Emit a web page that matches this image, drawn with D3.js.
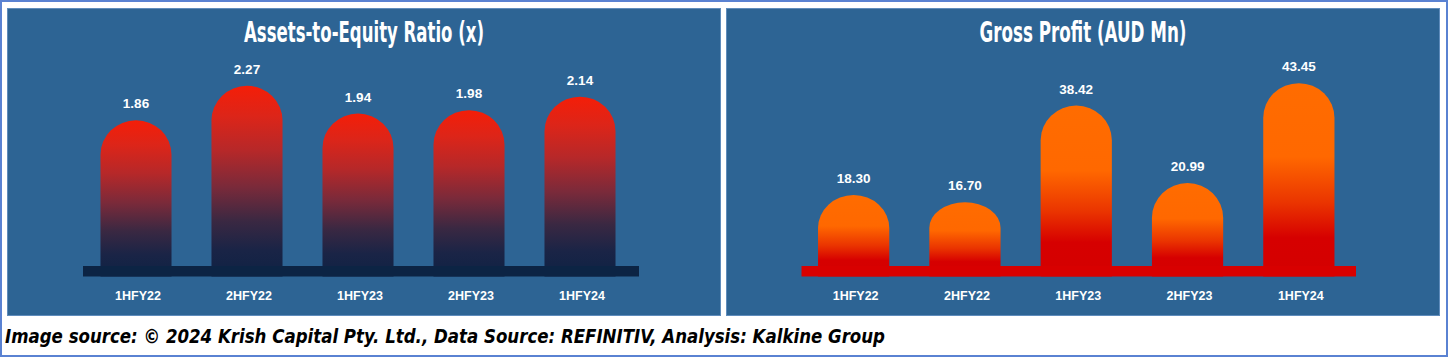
<!DOCTYPE html>
<html><head><meta charset="utf-8">
<script src="https://cdn.jsdelivr.net/npm/d3@7"></script>
<style>
html,body{margin:0;padding:0;background:#fff;}
svg{display:block;}
</style></head>
<body>
<script>
const categories = ["1HFY22","2HFY22","1HFY23","2HFY23","1HFY24"];
const assetsEquity = [1.86, 2.27, 1.94, 1.98, 2.14];
const grossProfit = [18.30, 16.70, 38.42, 20.99, 43.45];
const assetsLabels = ["1.86","2.27","1.94","1.98","2.14"];
const profitLabels = ["18.30","16.70","38.42","20.99","43.45"];
const titles = ["Assets-to-Equity Ratio (x)", "Gross Profit (AUD Mn)"];
const footer = "Image source: \u00a9 2024 Krish Capital Pty. Ltd., Data Source: REFINITIV, Analysis: Kalkine Group";

const W = 1448, H = 357;
const svg = d3.select("body").append("svg").attr("width", W).attr("height", H);
const defs = svg.append("defs");

svg.append("rect").attr("x",1).attr("y",1).attr("width",W-2).attr("height",H-2)
  .attr("fill","#fff").attr("stroke","#5a82d2").attr("stroke-width",2);

function grad(id, stops){
  const g = defs.append("linearGradient").attr("id",id)
    .attr("x1",0).attr("y1",0).attr("x2",0).attr("y2",1);
  stops.forEach(s=>g.append("stop").attr("offset",s[0]).attr("stop-color",s[1]));
}
grad("gLeft", [[0,"#f41e08"],[0.16,"#dc2519"],[0.34,"#b62829"],[0.53,"#7a2a3a"],[0.71,"#3a2842"],[0.86,"#1a2446"],[1,"#0e2244"]]);
grad("gRight", [[0,"#ff6c00"],[0.38,"#ff6800"],[0.62,"#ea3400"],[0.8,"#d60000"],[1,"#d40000"]]);

const panels = [
  {x0:7, x1:721, values:assetsEquity, labels:assetsLabels, title:titles[0], titleW:240,
   band:[80.5,635.5], strip:[83,639], yDom:[0,2.5], yTop:66.5, fill:"url(#gLeft)", stripFill:"#0c2444"},
  {x0:726, x1:1440, values:grossProfit, labels:profitLabels, title:titles[1], titleW:207,
   band:[798,1354.5], strip:[801.5,1356], yDom:[0,50], yTop:54, fill:"url(#gRight)", stripFill:"#d80000"}
];

const yZero = 276.5, stripTop = 266;

panels.forEach(p=>{
  const g = svg.append("g");
  g.append("rect").attr("x",p.x0+0.5).attr("y",8.5).attr("width",p.x1-p.x0-1).attr("height",307)
    .attr("fill","#2d6494").attr("stroke","#5f8cbc").attr("stroke-width",1);
  const cx = (p.x0+p.x1)/2;
  g.append("text").attr("x",cx).attr("y",42).attr("text-anchor","middle")
    .attr("fill","#fff").attr("font-family","'Liberation Sans Narrow','DejaVu Sans Condensed',sans-serif")
    .attr("font-weight","bold").attr("font-size",29)
    .attr("textLength",p.titleW).attr("lengthAdjust","spacingAndGlyphs").text(p.title);

  const x = d3.scaleBand().domain(categories).range(p.band).paddingInner(0.36).paddingOuter(0.18);
  const y = d3.scaleLinear().domain(p.yDom).range([yZero, p.yTop]);
  const w = x.bandwidth();

  categories.forEach((c,i)=>{
    const v = p.values[i];
    const left = x(c), top = y(v), right = left + w;
    const rx = w/2;
    const ry = Math.max(10, Math.min(w/2 - 1, (stripTop - top) - 38));
    const path = `M${left},${yZero} L${left},${top+ry} A${rx},${ry} 0 0 1 ${right},${top+ry} L${right},${yZero} Z`;
    g.append("path").attr("d",path).attr("fill",p.fill);
    g.append("text").attr("x",left+w/2).attr("y",top-12).attr("text-anchor","middle")
      .attr("fill","#fff").attr("font-family","'Liberation Sans',Arial,sans-serif")
      .attr("font-weight","bold").attr("font-size",13.5).text(p.labels[i]);
    g.append("text").attr("x",left+w/2+2).attr("y",299.5).attr("text-anchor","middle")
      .attr("fill","#fff").attr("font-family","'Liberation Sans',Arial,sans-serif")
      .attr("font-weight","bold").attr("font-size",12.5).text(c);
  });
  g.append("rect").attr("x",p.strip[0]).attr("y",stripTop).attr("width",p.strip[1]-p.strip[0])
    .attr("height",yZero-stripTop).attr("fill",p.stripFill);
});

svg.append("text").attr("x",5).attr("y",343).attr("fill","#000")
  .attr("font-family","'Liberation Sans Narrow','DejaVu Sans Condensed',sans-serif")
  .attr("font-style","italic").attr("font-weight","bold").attr("font-size",20)
  .attr("textLength",880).attr("lengthAdjust","spacingAndGlyphs").text(footer);
</script>
</body></html>
